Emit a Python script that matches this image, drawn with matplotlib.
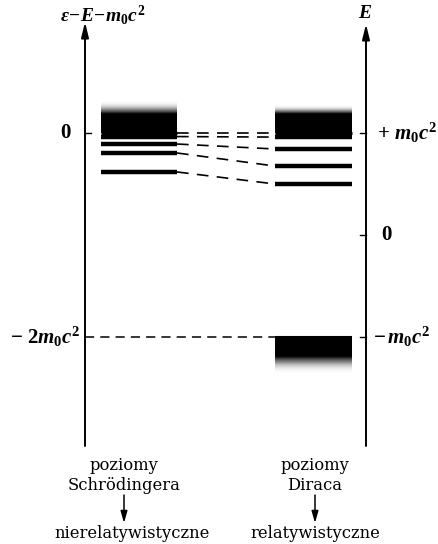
import matplotlib
matplotlib.use("Agg")
import matplotlib.pyplot as plt
import numpy as np

plt.rcParams["font.family"] = ["DejaVu Serif"]
plt.rcParams["mathtext.fontset"] = "custom"
plt.rcParams["mathtext.it"] = "Liberation Serif:italic:bold"
plt.rcParams["mathtext.rm"] = "Liberation Serif:bold"
plt.rcParams["mathtext.bf"] = "Liberation Serif:bold"

# energies in units of m0c^2, eps = E - m0c^2
schrodinger_levels = [0.0, -0.035, -0.108, -0.196, -0.382]
dirac_levels = [0.0, -0.04, -0.157, -0.324, -0.50]
pos_continuum_top = [0.31, 0.27]      # speckled top edge (left, right)
neg_continuum_edge = -2.0
neg_continuum_bottom = -2.35
right_ticks = [0.0, -1.0, -2.0]
right_tick_labels = [r"$+\ m_0c^2$", r"$\mathbf{0}$", r"$-\,m_0c^2$"]
left_ticks = [0.0, -2.0]
left_tick_labels = [r"$\mathbf{0}$", r"$-\ 2m_0c^2$"]

# layout (x in pixels, y converted from pixels to energy)
PX_PER_UNIT = 102.0
Y0_PX = 133.0


def py(y_px):
    return (Y0_PX - y_px) / PX_PER_UNIT


X_LEFT_AX, X_RIGHT_AX = 85, 366
SCH_X = (101, 177)
DIR_X = (275, 352)

fig = plt.figure(figsize=(4.39, 5.44), dpi=100)
ax = fig.add_axes([0, 0, 1, 1])
ax.set_xlim(0, 439)
ax.set_ylim(py(544), py(0))
ax.axis("off")

# axes with arrows
for x, tip in [(X_LEFT_AX, py(22)), (X_RIGHT_AX, py(24))]:
    ax.annotate("", xy=(x, tip), xytext=(x, py(446)),
                arrowprops=dict(arrowstyle="-|>,head_length=0.9,head_width=0.22",
                                lw=1.4, color="black", shrinkA=0, shrinkB=0))

ax.text(103, py(15), r"$\varepsilon\!-\!E\!-\!m_0c^2$", ha="center", va="center", fontsize=14)
ax.text(365, py(13), r"$E$", ha="center", va="center", fontsize=14)

# ticks
for t in left_ticks[:1]:
    ax.plot([X_LEFT_AX, X_LEFT_AX + 6], [t, t], color="black", lw=1)
for t in right_ticks:
    ax.plot([X_RIGHT_AX - 6, X_RIGHT_AX], [t, t], color="black", lw=1)
ax.text(66, left_ticks[0], left_tick_labels[0], ha="center", va="center", fontsize=15)
ax.text(81, left_ticks[1], left_tick_labels[1], ha="right", va="center", fontsize=15)
ax.text(377, right_ticks[0], right_tick_labels[0], ha="left", va="center", fontsize=15)
ax.text(381, right_ticks[1], right_tick_labels[1], ha="left", va="center", fontsize=15)
ax.text(373, right_ticks[2], right_tick_labels[2], ha="left", va="center", fontsize=15)


def band(x0, x1, y_solid_from, y_solid_to, y_fade_to):
    # solid black block plus a fading (speckled in original) edge
    n = 200
    ys = np.linspace(y_solid_from, y_fade_to, n)
    frac = np.clip((ys - y_solid_to) / (y_fade_to - y_solid_to), 0, 1)
    frac = np.where((ys - y_solid_to) * np.sign(y_fade_to - y_solid_to) < 0, 0, frac)
    vals = (1 - frac) ** 1.4
    img = np.tile(vals[:, None], (1, 2))
    ax.imshow(img, cmap="Greys", vmin=0, vmax=1, aspect="auto",
              extent=[x0, x1, y_solid_from, y_fade_to], origin="lower",
              interpolation="bilinear", zorder=1)


band(*SCH_X, 0.0, py(114), pos_continuum_top[0])
band(*DIR_X, 0.0, py(114), pos_continuum_top[1])
band(*DIR_X, neg_continuum_edge, py(356), neg_continuum_bottom)

# bound levels
for i, (ls, ld) in enumerate(zip(schrodinger_levels, dirac_levels)):
    lw = 2.2 if i == 0 else 3.2
    ax.plot(SCH_X, [ls, ls], color="black", lw=lw, solid_capstyle="butt", zorder=3)
    ax.plot(DIR_X, [ld, ld], color="black", lw=lw, solid_capstyle="butt", zorder=3)
    ax.plot([SCH_X[1], DIR_X[0]], [ls, ld], color="black", lw=1.2,
            ls=(0, (7, 5)), zorder=2)

# -2 m0c^2 dashed line
ax.plot([X_LEFT_AX, DIR_X[0]], [neg_continuum_edge] * 2, color="black", lw=1.1, ls=(0, (6, 4)))
ax.plot(DIR_X, [neg_continuum_edge] * 2, color="black", lw=1.5, solid_capstyle="butt")

# bottom captions
for cx, lines, word in [(124, ["poziomy", "Schrödingera"], "nierelatywistyczne"),
                        (315, ["poziomy", "Diraca"], "relatywistyczne")]:
    ax.text(cx, py(466), lines[0], ha="center", va="center", fontsize=11.8)
    ax.text(cx, py(486), lines[1], ha="center", va="center", fontsize=11.8)
    ax.annotate("", xy=(cx, py(523)), xytext=(cx, py(495)),
                arrowprops=dict(arrowstyle="-|>,head_length=0.7,head_width=0.2",
                                lw=1.1, color="black", shrinkA=0, shrinkB=0))
    ax.text(cx + (8 if cx < 200 else 0), py(533), word, ha="center", va="center", fontsize=11.8)

fig.savefig("out.png", dpi=100)
